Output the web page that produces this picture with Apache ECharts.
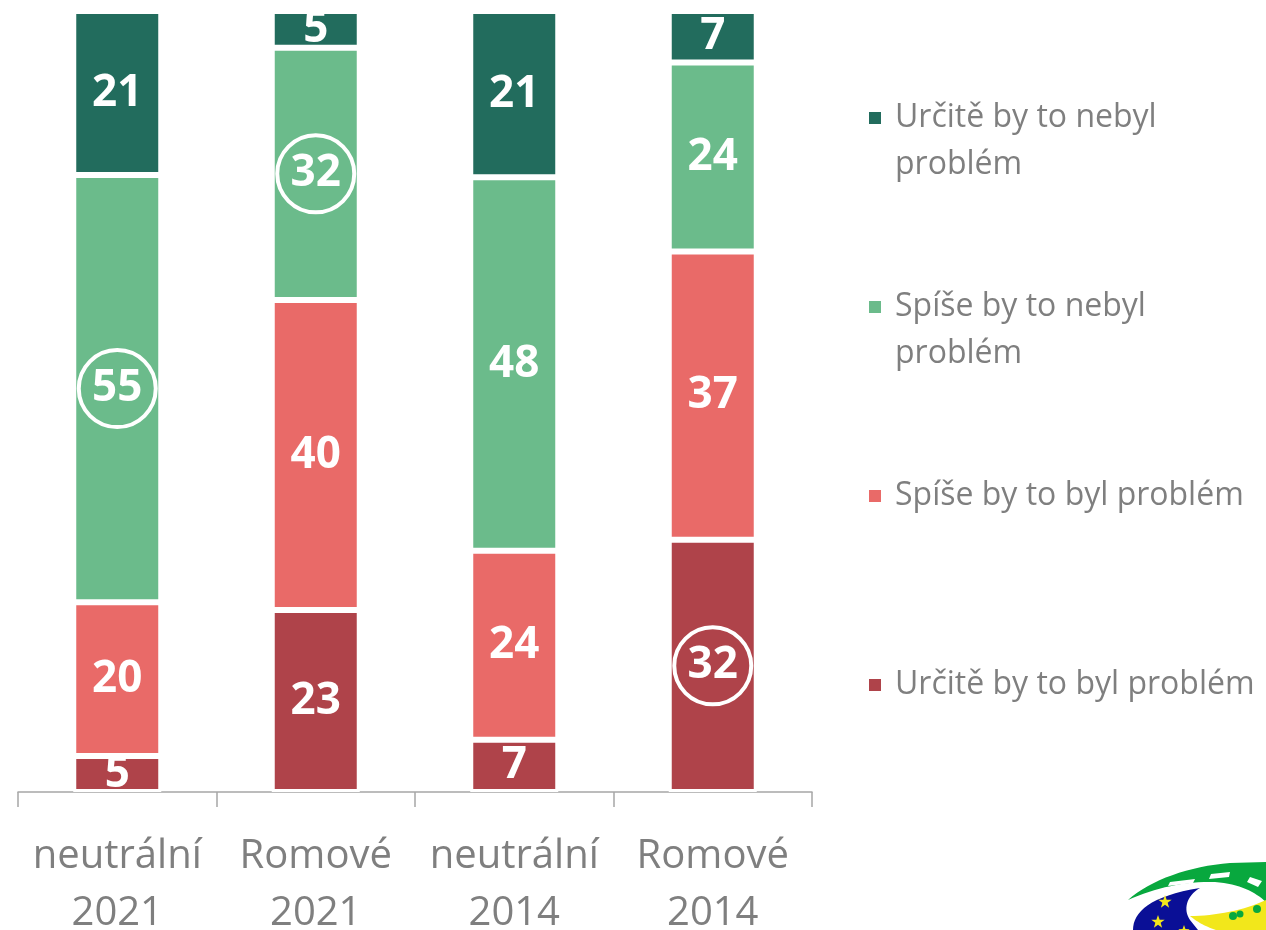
<!DOCTYPE html>
<html>
<head>
<meta charset="utf-8">
<script src="https://cdn.jsdelivr.net/npm/echarts@6/dist/echarts.min.js"></script>
<style>
html,body{margin:0;padding:0;background:#fff;}
#chart{width:1266px;height:930px;}
</style>
</head>
<body>
<div id="chart"></div>
<script>
// ---- data ----
const categories = ['neutrální\n2021', 'Romové\n2021', 'neutrální\n2014', 'Romové\n2014'];
const seriesNames = ['Určitě by to byl problém', 'Spíše by to byl problém', 'Spíše by to nebyl problém', 'Určitě by to nebyl problém'];
const urciteBylValues   = [4.6, 23.3, 6.7, 32.3];
const spiseBylValues    = [19.7, 39.7, 24.2, 36.9];
const spiseNebylValues  = [54.7, 32.3, 47.8, 24.2];
const urciteNebylValues = [21.0, 4.7, 21.3, 6.6];
const legendOrder = ['Určitě by to nebyl problém', 'Spíše by to nebyl problém', 'Spíše by to byl problém', 'Určitě by to byl problém'];
const legendLines = {
  'Určitě by to nebyl problém': ['Určitě by to nebyl', 'problém'],
  'Spíše by to nebyl problém': ['Spíše by to nebyl', 'problém'],
  'Spíše by to byl problém': ['Spíše by to byl problém'],
  'Určitě by to byl problém': ['Určitě by to byl problém']
};
// which labels are circled: [seriesIndex, dataIndex]
const circled = [[2, 0], [2, 1], [0, 3]];

const colors = ['#AF434A', '#E96A68', '#6BBB8B', '#226C5D'];
const allValues = [urciteBylValues, spiseBylValues, spiseNebylValues, urciteNebylValues];
const FONT = '"Open Sans", "Noto Sans", sans-serif';

const chart = echarts.init(document.getElementById('chart'), null, {renderer: 'canvas'});

function isCircled(s, d) {
  return circled.some(c => c[0] === s && c[1] === d);
}

const series = allValues.map((vals, s) => ({
  name: seriesNames[s],
  type: 'bar',
  stack: 'total',
  barWidth: 88,
  itemStyle: {color: colors[s], borderColor: '#fff', borderWidth: 3},
  label: {
    show: true,
    position: 'inside',
    color: '#fff',
    fontFamily: FONT,
    fontWeight: 'bold',
    fontSize: 44,
    formatter: p => isCircled(s, p.dataIndex) ? '{c|' + Math.round(p.value) + '}' : String(Math.round(p.value)),
    rich: {
      c: {
        color: '#fff', fontFamily: FONT, fontWeight: 'bold', fontSize: 44,
        width: 77, height: 77, lineHeight: 77, align: 'center',
        borderColor: '#fff', borderWidth: 4, borderRadius: 42
      }
    }
  },
  emphasis: {disabled: true},
  data: vals
}));

// ---- decorative logo helpers ----
function cubic(p0, p1, p2, p3, n) {
  const pts = [];
  for (let i = 1; i <= n; i++) {
    const t = i / n, u = 1 - t;
    pts.push([
      u*u*u*p0[0] + 3*u*u*t*p1[0] + 3*u*t*t*p2[0] + t*t*t*p3[0],
      u*u*u*p0[1] + 3*u*u*t*p1[1] + 3*u*t*t*p2[1] + t*t*t*p3[1]
    ]);
  }
  return pts;
}
function shape(start, segs) {
  let pts = [start], cur = start;
  segs.forEach(s => {
    if (s[0] === 'C') { pts = pts.concat(cubic(cur, s[1], s[2], s[3], 16)); cur = s[3]; }
    else { pts.push(s[1]); cur = s[1]; }
  });
  return pts;
}
function star(cx, cy, r) {
  const pts = [];
  for (let i = 0; i < 10; i++) {
    const rr = i % 2 === 0 ? r : r * 0.4;
    const a = -Math.PI / 2 + i * Math.PI / 5;
    pts.push([cx + rr * Math.cos(a), cy + rr * Math.sin(a)]);
  }
  return pts;
}

const logo = [
  {type: 'polygon', shape: {points: shape([1128, 900], [['C', [1150, 880], [1190, 866], [1230, 863]], ['L', [1266, 862]], ['L', [1266, 902]], ['C', [1255, 892], [1240, 884], [1215, 882]], ['C', [1185, 881], [1155, 888], [1128, 900]]])}, style: {fill: '#08A83E'}},
  {type: 'polygon', shape: {points: [[1170, 882], [1195, 879], [1193, 883], [1168, 886]]}, style: {fill: '#fff'}},
  {type: 'polygon', shape: {points: [[1211, 874], [1230, 872], [1229, 877], [1209, 879]]}, style: {fill: '#fff'}},
  {type: 'polygon', shape: {points: [[1250, 877], [1262, 881], [1258, 887], [1247, 882]]}, style: {fill: '#fff'}},
  {type: 'polygon', shape: {points: shape([1133, 930], [['C', [1133, 912], [1150, 896], [1200, 888]], ['C', [1186, 896], [1183, 910], [1190, 920]], ['L', [1198, 930]]])}, style: {fill: '#0A0F96'}},
  {type: 'polygon', shape: {points: shape([1190, 916], [['C', [1215, 916], [1245, 910], [1266, 900]], ['L', [1266, 930]], ['L', [1216, 930]], ['C', [1204, 926], [1196, 921], [1190, 916]]])}, style: {fill: '#F2E71B'}},
  {type: 'circle', shape: {cx: 1233, cy: 916, r: 4}, style: {fill: '#08A83E'}},
  {type: 'circle', shape: {cx: 1240, cy: 914, r: 3.5}, style: {fill: '#08A83E'}},
  {type: 'circle', shape: {cx: 1257, cy: 909, r: 4}, style: {fill: '#08A83E'}},
  {type: 'polygon', shape: {points: star(1165, 902, 7)}, style: {fill: '#F2E71B'}},
  {type: 'polygon', shape: {points: star(1158, 922, 7)}, style: {fill: '#F2E71B'}},
  {type: 'polygon', shape: {points: star(1184, 931, 6)}, style: {fill: '#F2E71B'}}
];

const option = {
  backgroundColor: '#fff',
  animation: false,
  grid: {left: 18, right: 454, top: 11, bottom: 138, containLabel: false, outerBoundsMode: 'none'},
  xAxis: {
    type: 'category',
    data: categories,
    axisLine: {lineStyle: {color: '#A6A6A6', width: 1.5}},
    axisTick: {show: true, length: 15, lineStyle: {color: '#A6A6A6', width: 1.5}},
    axisLabel: {interval: 0, margin: 36, color: '#7F7F7F', fontFamily: FONT, fontSize: 40, lineHeight: 57}
  },
  yAxis: {type: 'value', min: 0, max: 100, show: false},
  legend: {
    orient: 'vertical',
    left: 867,
    top: 47.5,
    padding: 0,
    itemGap: 48,
    itemWidth: 14,
    itemHeight: 14,
    icon: 'rect',
    selectedMode: false,
    // first text line aligned with the marker: pad the block with empty lines so it stays centred on line 1
    formatter: name => {
      const l = legendLines[name];
      return l.length > 1 ? '\n' + l.join('\n') : '\n' + l[0] + '\n';
    },
    textStyle: {color: '#7F7F7F', fontFamily: FONT, fontSize: 32, lineHeight: 47, padding: [0, 0, 0, 8]},
    data: legendOrder
  },
  graphic: logo,
  series: series
};
chart.setOption(option);
</script>
</body>
</html>
